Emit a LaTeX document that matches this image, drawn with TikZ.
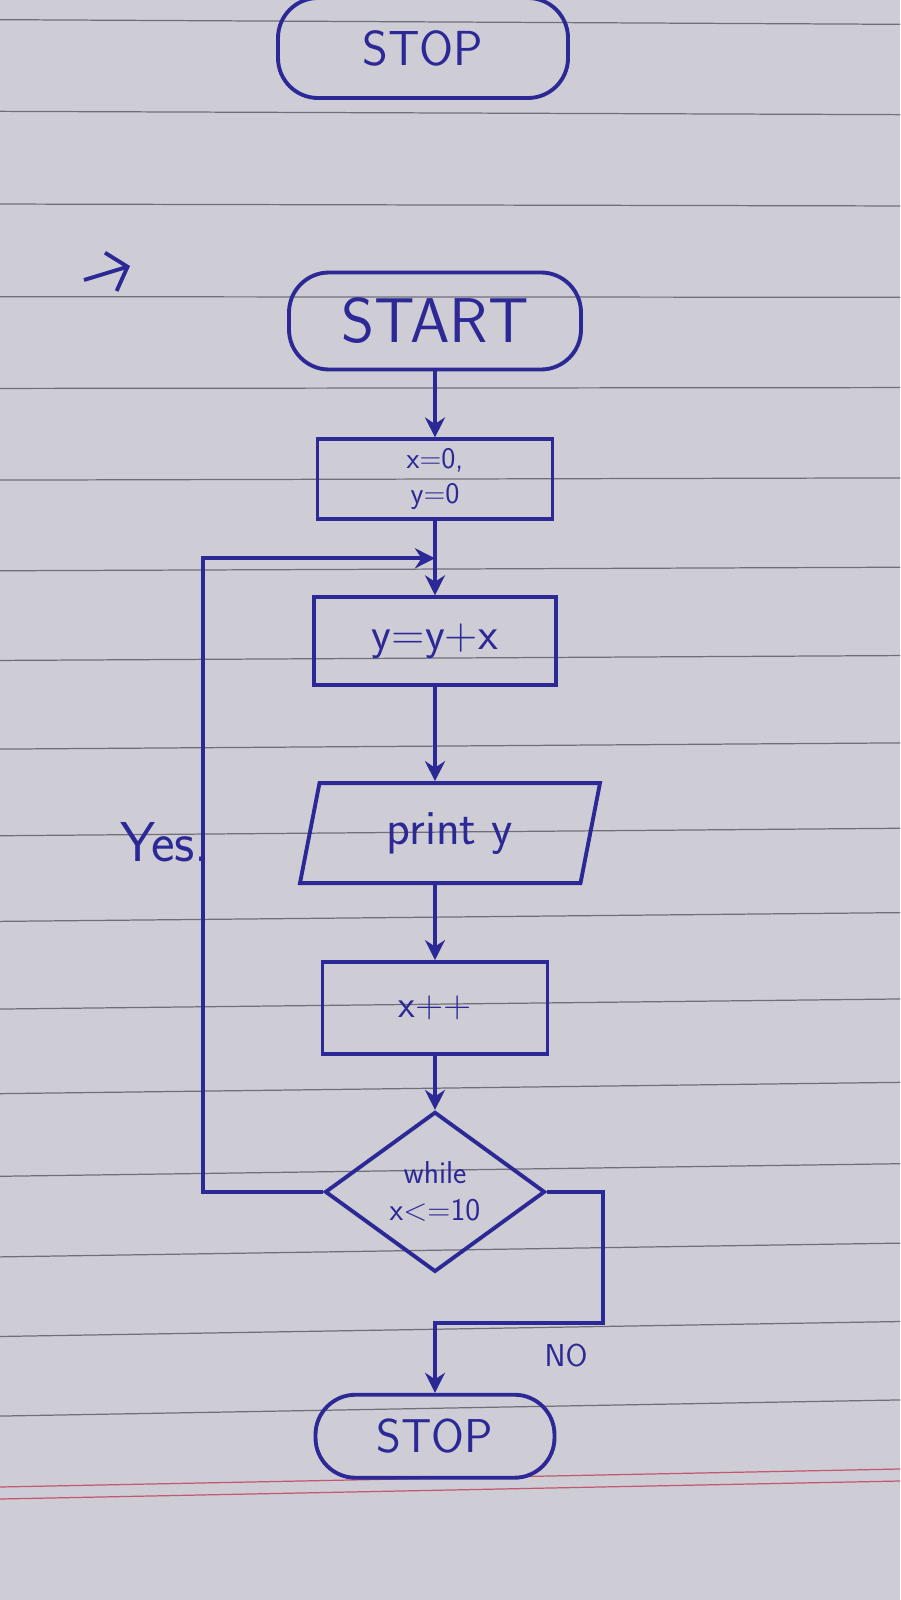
\documentclass[tikz,border=0pt]{standalone}
\usetikzlibrary{arrows.meta, positioning, shapes.geometric, calc}
\definecolor{ink}{RGB}{44,40,150}
\definecolor{paper}{RGB}{206,205,214}
\definecolor{rule}{RGB}{112,110,122}
\definecolor{margin}{RGB}{196,88,112}
\newcommand{\fs}[1]{\fontsize{#1}{#1}\selectfont}

\begin{document}
\begin{tikzpicture}[x=0.2mm, y=-0.2mm, node distance=15mm, >={Stealth[length=4mm,width=4mm]}, font=\sffamily,
  pen/.style={draw=ink, line width=2.2pt},
  terminal/.style={pen, rounded corners=8mm, minimum width=58mm, minimum height=19mm, text=ink},
  procbox/.style={pen, align=center, minimum width=47mm, minimum height=16mm, text=ink},
  iobox/.style={pen, trapezium, trapezium left angle=70, trapezium right angle=110, trapezium stretches body, minimum width=60mm, minimum height=20mm, text=ink},
  decision/.style={pen, diamond, align=center, minimum width=44mm, minimum height=32mm, inner sep=0pt, text=ink},
  flow/.style={pen, ->}]
% paper
\useasboundingbox (0,0) rectangle (900,1600);
\fill[paper] (0,0) rectangle (900,1600);
\foreach \ly in {22,113,205,297,388,479,569,658,746,832,917,1004,1088,1170,1250,1329,1408}
  \draw[rule, line width=0.7pt] (0,{\ly-2.5+0.0075*\ly}) -- (900,{\ly+2.5-0.0075*\ly});
\foreach \ly in {1478,1490}
  \draw[margin, line width=0.7pt] (0,{\ly+9}) -- (900,{\ly-9});

% previous chart
\node[terminal, minimum height=20mm, font=\sffamily\fs{28}] (stoptop) at (423,48) {STOP};
\coordinate (marka) at (84,280);
\coordinate (markb) at (130,266);
\draw[pen, -{Straight Barb[length=3.5mm,width=8mm]}] (marka) -- (markb);

% flowchart
\node[terminal, minimum width=58.4mm, minimum height=19.4mm, font=\sffamily\fs{36}] (start) at (435,321) {START};
\node[procbox, below=13.2mm of start, font=\sffamily\fontsize{17}{20}\selectfont] (init) {x=0,\\y=0};
\node[procbox, below=14.8mm of init, minimum width=48.4mm, minimum height=17.6mm, font=\sffamily\fs{26}] (update) {y=y+x};
\node[iobox, below=18.8mm of update, xshift=3mm, font=\sffamily\fs{28}] (output) {print y};
\node[procbox, below=15mm of output, xshift=-3mm, minimum width=45mm, minimum height=18.4mm, font=\sffamily\fs{22}] (incr) {x++};
\node[decision, below=10.8mm of incr, font=\sffamily\fontsize{18}{21}\selectfont] (cond) {while\\x<=10};
\node[terminal, below=23.8mm of cond, minimum width=47.8mm, minimum height=16.6mm, font=\sffamily\fs{27}] (stop) {STOP};

\coordinate (join) at ($(init.south)!0.5!(update.north)$);
\coordinate[above=14mm of stop] (merge);

\draw[flow] (start) -- (init);
\draw[flow] (init) -- (update);
\draw[flow] (update.south) -- (update.south |- output.north);
\draw[flow] (output.south -| incr.north) -- (incr.north);
\draw[flow] (incr) -- (cond);
\draw[flow] (cond.west) -- ++(-120,0) |- (join);
\draw[flow] (cond.east) -- ++(56,0) |- (merge) -- (stop);

\node[text=ink, font=\sffamily\fs{32}] (yes) at (165,842) {Yes.};
\node[text=ink, font=\sffamily\fs{18}] (no) at (566,1356) {NO};
\end{tikzpicture}
\end{document}
